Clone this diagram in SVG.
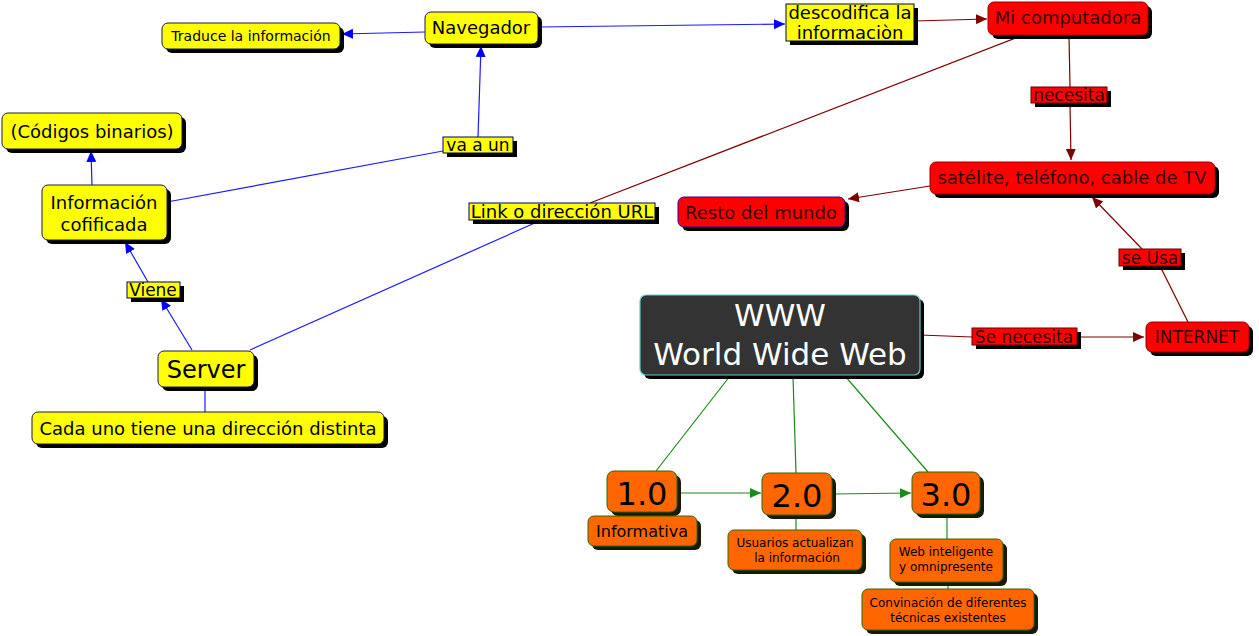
<svg xmlns="http://www.w3.org/2000/svg" width="1259" height="636" viewBox="0 0 1259 636">
<style>
text{font-family:"DejaVu Sans","Verdana",sans-serif;text-anchor:middle}
.sh{fill:#000}
.y{fill:#ffff00;stroke:#1a1a4d;stroke-width:1}
.r{fill:#ff0000;stroke:#990000;stroke-width:1}
.o{fill:#ff6600;stroke:#336600;stroke-width:1}
.shg{fill:#1a1a00}
.lb{fill:#ffff00;stroke:#000066;stroke-width:1}
.lr{fill:#ff0000;stroke:#660000;stroke-width:1}
.tr{fill:#330000}
.lnb{stroke:#1a1aff;stroke-width:1.2;fill:none}
.lnr{stroke:#800000;stroke-width:1.2;fill:none}
.lng{stroke:#1a8c1a;stroke-width:1.2;fill:none}
</style>
<defs>
<marker id="ab" markerWidth="12" markerHeight="12" refX="11" refY="6" orient="auto" markerUnits="userSpaceOnUse"><path d="M0,1 L11,6 L0,11 Z" fill="#0000ff"/></marker>
<marker id="ar" markerWidth="12" markerHeight="12" refX="11" refY="6" orient="auto" markerUnits="userSpaceOnUse"><path d="M0,1 L11,6 L0,11 Z" fill="#800000"/></marker>
<marker id="ag" markerWidth="12" markerHeight="12" refX="11" refY="6" orient="auto" markerUnits="userSpaceOnUse"><path d="M0,1 L11,6 L0,11 Z" fill="#1a8c1a"/></marker>
</defs>
<rect width="1259" height="636" fill="#fff"/>
<g id="connectors">
<line class="lnb" x1="425" y1="32" x2="342" y2="34" marker-end="url(#ab)"/>
<line class="lnb" x1="538" y1="27" x2="785" y2="24" marker-end="url(#ab)"/>
<line class="lnr" x1="914" y1="21" x2="987" y2="19" marker-end="url(#ar)"/>
<line class="lnr" x1="1018" y1="37" x2="590" y2="203"/>
<line class="lnb" x1="537" y1="222" x2="250" y2="350"/>
<line class="lnr" x1="1069" y1="36" x2="1070" y2="87"/>
<line class="lnr" x1="1070" y1="103" x2="1071" y2="160" marker-end="url(#ar)"/>
<line class="lnr" x1="930" y1="186" x2="848" y2="199" marker-end="url(#ar)"/>
<line class="lnr" x1="1188" y1="322" x2="1160" y2="266"/>
<line class="lnr" x1="1142" y1="249" x2="1092" y2="197" marker-end="url(#ar)"/>
<line class="lnr" x1="920" y1="335" x2="972" y2="337"/>
<line class="lnr" x1="1077" y1="337" x2="1144" y2="337" marker-end="url(#ar)"/>
<line class="lng" x1="730" y1="376" x2="656" y2="471"/>
<line class="lng" x1="793" y1="376" x2="796" y2="473"/>
<line class="lng" x1="845" y1="376" x2="928" y2="472"/>
<line class="lng" x1="677" y1="493" x2="761" y2="493" marker-end="url(#ag)"/>
<line class="lng" x1="832" y1="494" x2="911" y2="493" marker-end="url(#ag)"/>
<line class="lng" x1="796" y1="515" x2="796" y2="530"/>
<line class="lng" x1="947" y1="514" x2="947" y2="539"/>
<line class="lng" x1="948" y1="582" x2="948" y2="589"/>
<line class="lnb" x1="192" y1="350" x2="161" y2="299" marker-end="url(#ab)"/>
<line class="lnb" x1="148" y1="282" x2="125" y2="242" marker-end="url(#ab)"/>
<line class="lnb" x1="167" y1="202" x2="443" y2="151"/>
<line class="lnb" x1="478" y1="137" x2="481" y2="46" marker-end="url(#ab)"/>
<line class="lnb" x1="92" y1="185" x2="91" y2="151" marker-end="url(#ab)"/>
<line class="lnb" x1="205" y1="387" x2="205" y2="412"/>
</g>
<g id="traduce"><rect class="sh" x="166" y="27" width="178" height="26" rx="6"/><rect class="y" x="162" y="23" width="178" height="26" rx="6"/><text x="251" y="41" font-size="14">Traduce la información</text></g>
<g id="navegador"><rect class="sh" x="429" y="16" width="113" height="32" rx="6"/><rect class="y" x="425" y="12" width="113" height="32" rx="6"/><text x="481" y="34" font-size="18">Navegador</text></g>
<g id="descodifica"><rect class="sh" x="790" y="8" width="128" height="37"/><rect class="lb" x="786" y="4" width="128" height="37"/><text x="850" y="19" font-size="18">descodifica la</text><text x="850" y="39" font-size="18">informaciòn</text></g>
<g id="micomputadora"><rect class="sh" x="992" y="6" width="160" height="33" rx="6"/><rect class="r" x="988" y="2" width="160" height="33" rx="6"/><text class="tr" x="1068" y="24" font-size="18">Mi computadora</text></g>
<g id="necesita"><rect class="sh" x="1035" y="91" width="76" height="16"/><rect class="lr" x="1031" y="87" width="76" height="16"/><text class="tr" x="1069" y="101" font-size="17">necesita</text></g>
<g id="satelite"><rect class="sh" x="934" y="166" width="285" height="32" rx="6"/><rect class="r" x="930" y="162" width="285" height="32" rx="6"/><text class="tr" x="1072" y="184" font-size="18">satélite, teléfono, cable de TV</text></g>
<g id="resto"><rect class="sh" x="682" y="201" width="167" height="30" rx="6"/><rect class="r" x="678" y="197" width="167" height="30" rx="6" style="stroke:#330099"/><text class="tr" x="761" y="219" font-size="18">Resto del mundo</text></g>
<g id="link"><rect class="sh" x="473" y="207" width="186" height="17"/><rect class="lb" x="469" y="203" width="186" height="17"/><text x="562" y="218" font-size="18">Link o dirección URL</text></g>
<g id="vaaun"><rect class="sh" x="447" y="141" width="70" height="16"/><rect class="lb" x="443" y="137" width="70" height="16"/><text x="478" y="151" font-size="17">va a un</text></g>
<g id="codigos"><rect class="sh" x="6" y="117" width="180" height="36" rx="6"/><rect class="y" x="2" y="113" width="180" height="36" rx="6"/><text x="92" y="138" font-size="18">(Códigos binarios)</text></g>
<g id="informacion"><rect class="sh" x="46" y="189" width="125" height="55" rx="6"/><rect class="y" x="42" y="185" width="125" height="55" rx="6"/><text x="104" y="209" font-size="18">Información</text><text x="104" y="231" font-size="18">cofificada</text></g>
<g id="viene"><rect class="sh" x="131" y="286" width="53" height="16"/><rect class="lb" x="127" y="282" width="53" height="16"/><text x="153" y="296" font-size="17">Viene</text></g>
<g id="server"><rect class="sh" x="162" y="355" width="96" height="36" rx="6"/><rect class="y" x="158" y="351" width="96" height="36" rx="6"/><text x="206" y="378" font-size="24">Server</text></g>
<g id="cadauno"><rect class="sh" x="36" y="416" width="352" height="32" rx="6"/><rect class="y" x="32" y="412" width="352" height="32" rx="6"/><text x="208" y="435" font-size="18">Cada uno tiene una dirección distinta</text></g>
<g id="www"><rect class="sh" x="644" y="299" width="280" height="80" rx="6"/><rect x="640" y="295" width="280" height="80" rx="6" fill="#333333" stroke="#66cccc" stroke-width="1.2"/><text x="780" y="326" font-size="31" fill="#fff">WWW</text><text x="780" y="365" font-size="31" fill="#fff">World Wide Web</text></g>
<g id="senecesita"><rect class="sh" x="976" y="332" width="105" height="17"/><rect class="lr" x="972" y="328" width="105" height="17"/><text class="tr" x="1024" y="343" font-size="17">Se necesita</text></g>
<g id="internet"><rect class="sh" x="1150" y="326" width="103" height="30" rx="6"/><rect class="r" x="1146" y="322" width="103" height="30" rx="6"/><text class="tr" x="1197" y="343" font-size="17">INTERNET</text></g>
<g id="seusa"><rect class="sh" x="1123" y="253" width="62" height="17"/><rect class="lr" x="1119" y="249" width="62" height="17"/><text class="tr" x="1150" y="264" font-size="17">se Usa</text></g>
<g id="v1"><rect class="shg" x="611" y="475" width="70" height="41" rx="7"/><rect class="o" x="607" y="471" width="70" height="41" rx="7"/><text x="642" y="505" font-size="32">1.0</text></g>
<g id="v2"><rect class="shg" x="766" y="477" width="70" height="42" rx="7"/><rect class="o" x="762" y="473" width="70" height="42" rx="7"/><text x="797" y="507" font-size="32">2.0</text></g>
<g id="v3"><rect class="shg" x="916" y="476" width="68" height="42" rx="7"/><rect class="o" x="912" y="472" width="68" height="42" rx="7"/><text x="946" y="506" font-size="32">3.0</text></g>
<g id="informativa"><rect class="shg" x="592" y="520" width="109" height="30" rx="6"/><rect class="o" x="588" y="516" width="109" height="30" rx="6"/><text x="642" y="537" font-size="16">Informativa</text></g>
<g id="usuarios"><rect class="shg" x="732" y="534" width="134" height="40" rx="6"/><rect class="o" x="728" y="530" width="134" height="40" rx="6"/><text x="795" y="547" font-size="12">Usuarios actualizan</text><text x="797" y="562" font-size="12">la información</text></g>
<g id="webint"><rect class="shg" x="894" y="543" width="113" height="43" rx="6"/><rect class="o" x="890" y="539" width="113" height="43" rx="6"/><text x="946" y="556" font-size="12">Web inteligente</text><text x="946" y="571" font-size="12">y omnipresente</text></g>
<g id="convinacion"><rect class="shg" x="866" y="593" width="172" height="41" rx="6"/><rect class="o" x="862" y="589" width="172" height="41" rx="6"/><text x="948" y="607" font-size="12">Convinación de diferentes</text><text x="948" y="622" font-size="12">técnicas existentes</text></g>
</svg>
